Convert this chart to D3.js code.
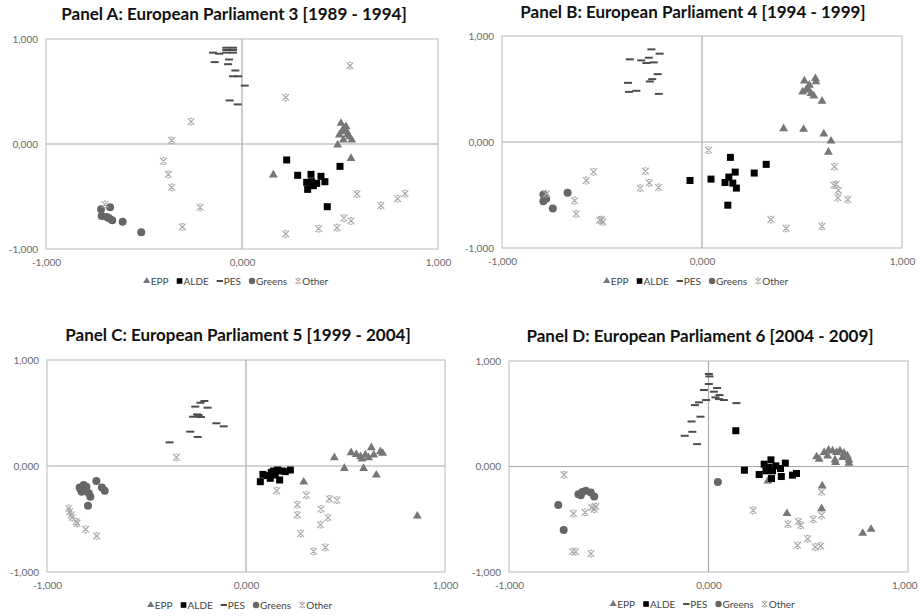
<!DOCTYPE html>
<html>
<head>
<meta charset="utf-8">
<script src="https://cdnjs.cloudflare.com/ajax/libs/d3/7.8.5/d3.min.js"></script>
<style>
  body { margin: 0; background: #fff; }
  svg { display: block; }
</style>
</head>
<body>
<div id="chart"></div>
<script>
// Scatter plots of party positions, four parliaments

// Series and tick labels
const seriesNames = ["EPP", "ALDE", "PES", "Greens", "Other"];
const tickValues = [-1, 0, 1];
const panelTitles = [
  "Panel A: European Parliament 3 [1989 - 1994]",
  "Panel B: European Parliament 4 [1994 - 1999]",
  "Panel C: European Parliament 5 [1999 - 2004]",
  "Panel D: European Parliament 6 [2004 - 2009]"
];

// Panel A (EP3)
const eppA = [[0.16,-0.295],[0.556,-0.137],[0.505,0.197],[0.52,0.149],[0.534,0.117],[0.497,0.086],[0.548,0.07],
  [0.517,0.038],[0.488,-0.01],[0.56,0.038],[0.531,0.165],[0.54,0.092],[0.51,0.12]];
const aldeA = [[0.228,-0.152],[0.284,-0.298],[0.352,-0.289],[0.403,-0.308],[0.33,-0.365],[0.355,-0.359],[0.381,-0.375],
  [0.423,-0.359],[0.335,-0.432],[0.364,-0.397],[0.5,-0.213],[0.435,-0.597]];
const pesA = [[-0.148,0.87],[-0.117,0.86],[-0.08,0.917],[-0.046,0.917],[-0.08,0.895],[-0.046,0.895],[-0.08,0.87],
  [-0.046,0.87],[-0.139,0.78],[-0.066,0.805],[-0.071,0.76],[-0.034,0.70],[-0.046,0.645],[-0.019,0.645],
  [0.014,0.556],[-0.063,0.415],[-0.022,0.377]];
const greensA = [[-0.719,-0.622],[-0.673,-0.603],[-0.716,-0.686],[-0.69,-0.695],[-0.662,-0.727],[-0.609,-0.74],
  [-0.514,-0.841],[-0.678,-0.708]];
const otherA = [[0.551,0.746],[0.223,0.444],[-0.26,0.213],[-0.359,0.035],[-0.401,-0.162],[-0.376,-0.289],[-0.359,-0.413],
  [-0.214,-0.603],[-0.304,-0.79],[-0.699,-0.575],[0.223,-0.857],[0.391,-0.806],[0.485,-0.797],[0.52,-0.705],
  [0.556,-0.733],[0.587,-0.476],[0.709,-0.587],[0.794,-0.521],[0.832,-0.473]];

// Panel B (EP4)
const eppB = [[0.512,0.577],[0.567,0.599],[0.57,0.568],[0.537,0.536],[0.503,0.473],[0.52,0.489],[0.545,0.457],
  [0.559,0.435],[0.528,0.505],[0.6,0.385],[0.408,0.126],[0.508,0.12],[0.609,0.076],[0.645,0.009],[0.632,-0.095]];
const aldeB = [[-0.06,-0.363],[0.045,-0.35],[0.142,-0.145],[0.166,-0.284],[0.134,-0.331],[0.115,-0.382],[0.154,-0.388],
  [0.172,-0.435],[0.261,-0.293],[0.321,-0.211],[0.129,-0.596]];
const pesB = [[-0.253,0.874],[-0.212,0.833],[-0.361,0.78],[-0.304,0.77],[-0.266,0.795],[-0.278,0.745],[-0.241,0.751],
  [-0.222,0.64],[-0.249,0.593],[-0.261,0.571],[-0.37,0.558],[-0.365,0.473],[-0.328,0.483],[-0.216,0.454]];
const greensB = [[-0.793,-0.495],[-0.793,-0.558],[-0.779,-0.536],[-0.672,-0.479],[-0.746,-0.628],[-0.784,-0.52]];
const otherB = [[0.032,-0.076],[-0.542,-0.281],[-0.579,-0.363],[-0.637,-0.552],[-0.629,-0.678],[-0.512,-0.738],
  [-0.495,-0.754],[-0.503,-0.732],[-0.283,-0.274],[-0.264,-0.385],[-0.309,-0.435],[-0.217,-0.429],[-0.779,-0.49],
  [0.662,-0.233],[0.659,-0.407],[0.671,-0.4],[0.682,-0.457],[0.679,-0.527],[0.729,-0.543],[0.344,-0.732],
  [0.421,-0.814],[0.6,-0.795]];

// Panel C (EP5)
const eppC = [[0.444,0.079],[0.528,0.126],[0.554,0.11],[0.575,0.088],[0.6,0.104],[0.63,0.173],[0.642,0.104],
  [0.675,0.135],[0.687,0.12],[0.583,0.066],[0.616,0.079],[0.494,-0.022],[0.591,-0.022],[0.655,-0.085],
  [0.29,-0.151],[0.861,-0.472]];
const aldeC = [[0.072,-0.148],[0.085,-0.079],[0.106,-0.091],[0.127,-0.06],[0.139,-0.047],[0.159,-0.038],[0.181,-0.047],
  [0.223,-0.038],[0.147,-0.085],[0.169,-0.132],[0.122,-0.116],[0.197,-0.053]];
const pesC = [[-0.209,0.613],[-0.229,0.597],[-0.255,0.56],[-0.193,0.55],[-0.246,0.487],[-0.266,0.465],[-0.226,0.462],
  [-0.238,0.481],[-0.149,0.403],[-0.112,0.374],[-0.28,0.324],[-0.243,0.274],[-0.384,0.223]];
const greensC = [[-0.836,-0.204],[-0.816,-0.179],[-0.802,-0.195],[-0.826,-0.242],[-0.79,-0.258],[-0.782,-0.289],
  [-0.807,-0.226],[-0.752,-0.142],[-0.724,-0.204],[-0.71,-0.233],[-0.794,-0.374],[-0.832,-0.217]];
const otherC = [[-0.35,0.082],[-0.891,-0.4],[-0.886,-0.431],[-0.878,-0.462],[-0.874,-0.487],[-0.853,-0.525],
  [-0.849,-0.541],[-0.806,-0.597],[-0.75,-0.66],[0.154,-0.233],[0.303,-0.274],[0.258,-0.365],[0.258,-0.462],
  [0.275,-0.638],[0.377,-0.406],[0.412,-0.487],[0.374,-0.553],[0.419,-0.311],[0.457,-0.321],[0.34,-0.805],[0.399,-0.767]];

// Panel D (EP6)
const eppD = [[0.542,0.092],[0.555,0.07],[0.58,0.133],[0.602,0.155],[0.622,0.148],[0.642,0.133],[0.659,0.148],
  [0.679,0.127],[0.696,0.101],[0.704,0.063],[0.634,0.063],[0.672,0.085],[0.704,0.032],[0.637,0.038],[0.597,0.101],
  [0.57,-0.184],[0.567,-0.399],[0.393,-0.446],[0.773,-0.633],[0.815,-0.595],[0.298,-0.136]];
const aldeD = [[0.137,0.339],[0.18,-0.035],[0.279,0.022],[0.313,0.063],[0.304,-0.009],[0.338,0.006],[0.361,-0.019],
  [0.385,0.032],[0.288,-0.041],[0.254,-0.076],[0.316,-0.114],[0.365,-0.095],[0.421,-0.082],[0.441,-0.066],[0.321,-0.041]];
const pesD = [[0.002,0.877],[0.005,0.854],[0.002,0.782],[-0.023,0.725],[0.043,0.744],[0.027,0.709],[0.055,0.677],
  [0.035,0.655],[0.052,0.639],[0.077,0.63],[-0.012,0.63],[-0.048,0.608],[-0.068,0.582],[0.14,0.601],[-0.04,0.472],
  [-0.085,0.427],[-0.081,0.329],[-0.119,0.291],[-0.057,0.212]];
const greensD = [[0.047,-0.146],[-0.753,-0.364],[-0.726,-0.601],[-0.652,-0.263],[-0.632,-0.241],[-0.615,-0.231],
  [-0.59,-0.247],[-0.573,-0.285],[-0.64,-0.272]];
const otherD = [[-0.724,-0.079],[-0.677,-0.446],[-0.619,-0.434],[-0.585,-0.389],[-0.565,-0.38],[-0.573,-0.405],
  [-0.682,-0.807],[-0.666,-0.807],[-0.589,-0.826],[0.224,-0.415],[0.398,-0.547],[0.45,-0.522],[0.462,-0.557],
  [0.525,-0.5],[0.567,-0.462],[0.567,-0.241],[0.446,-0.747],[0.497,-0.684],[0.535,-0.763],[0.562,-0.753]];

const panelData = [
  [eppA, aldeA, pesA, greensA, otherA],
  [eppB, aldeB, pesB, greensB, otherB],
  [eppC, aldeC, pesC, greensC, otherC],
  [eppD, aldeD, pesD, greensD, otherD]
];

// plot area boxes and title baselines (pixels)
const layout = [
  {left: 46, top: 39, right: 438, bottom: 249, titleX: 234, titleY: 20, legendY: 281},
  {left: 502, top: 36, right: 902, bottom: 248, titleX: 693, titleY: 18, legendY: 281},
  {left: 47, top: 360, right: 445, bottom: 572, titleX: 238, titleY: 341, legendY: 605},
  {left: 509, top: 361, right: 908, bottom: 572, titleX: 700, titleY: 342, legendY: 604}
];

const styles = {
  EPP: {fill: "#767676"},
  ALDE: {fill: "#000"},
  PES: {stroke: "#4d4d4d"},
  Greens: {fill: "#666"},
  Other: {stroke: "#a9a9a9"}
};

const svg = d3.select("#chart").append("svg")
  .attr("width", 919)
  .attr("height", 616);

const fmt = d => d3.format(".3f")(d).replace(".", ",").replace("\u2212", "-");

// draws one marker of a series at (0,0) inside g
function drawMarker(g, name, s) {
  if (name === "EPP") {
    g.append("path").attr("d", d3.symbol(d3.symbolTriangle, 34 * s * s)()).attr("fill", styles.EPP.fill);
  } else if (name === "ALDE") {
    g.append("rect").attr("x", -3.5 * s).attr("y", -3.5 * s).attr("width", 7 * s).attr("height", 7 * s)
      .attr("fill", styles.ALDE.fill);
  } else if (name === "PES") {
    g.append("line").attr("x1", -4 * s).attr("x2", 4 * s).attr("y1", 0).attr("y2", 0)
      .attr("stroke", styles.PES.stroke).attr("stroke-width", 2);
  } else if (name === "Greens") {
    g.append("circle").attr("r", 4 * s).attr("fill", styles.Greens.fill);
  } else {
    const r = 3.3 * s;
    g.append("path")
      .attr("d", `M${-r},${-r}L${r},${r}M${r},${-r}L${-r},${r}M${-r * 0.35},${-r}H${r * 0.35}M${-r * 0.35},${r}H${r * 0.35}`)
      .attr("stroke", styles.Other.stroke).attr("stroke-width", 1.2).attr("fill", "none");
  }
}

layout.forEach((box, i) => {
  const x = d3.scaleLinear().domain([-1, 1]).range([box.left, box.right]);
  const y = d3.scaleLinear().domain([-1, 1]).range([box.bottom, box.top]);
  const g = svg.append("g");

  // title
  g.append("text")
    .attr("x", box.titleX)
    .attr("y", box.titleY)
    .attr("text-anchor", "middle")
    .attr("font-family", "Lato, sans-serif")
    .attr("font-weight", "bold")
    .attr("font-size", 17)
    .attr("fill", "#111")
    .text(panelTitles[i]);

  // frame and zero lines
  g.append("rect")
    .attr("x", box.left).attr("y", box.top)
    .attr("width", box.right - box.left).attr("height", box.bottom - box.top)
    .attr("fill", "none").attr("stroke", "#c4c4c4").attr("stroke-width", 1.2);
  g.append("line")
    .attr("x1", x(0)).attr("x2", x(0)).attr("y1", box.top).attr("y2", box.bottom)
    .attr("stroke", "#aaa").attr("stroke-width", 1.2);
  g.append("line")
    .attr("x1", box.left).attr("x2", box.right).attr("y1", y(0)).attr("y2", y(0))
    .attr("stroke", "#aaa").attr("stroke-width", 1.2);

  // axes, labels only
  const yAxis = g.append("g")
    .attr("transform", `translate(${box.left - 8},0)`)
    .call(d3.axisLeft(y).tickValues(tickValues).tickFormat(fmt).tickSize(0));
  const xAxis = g.append("g")
    .attr("transform", `translate(0,${box.bottom + 8})`)
    .call(d3.axisBottom(x).tickValues(tickValues).tickFormat(fmt).tickSize(0));
  [yAxis, xAxis].forEach(a => {
    a.select(".domain").remove();
    a.selectAll("text").attr("font-family", "Lato, sans-serif").attr("font-size", 10).attr("fill", "#6a6a6a");
  });
  yAxis.selectAll("text").attr("x", 0);
  xAxis.selectAll("text").attr("y", 2);
  // keep the last x label inside the page
  xAxis.selectAll(".tick").each(function(d) {
    const t = d3.select(this).select("text");
    const w = t.node().getBBox().width;
    if (x(d) + w / 2 > 917) t.attr("text-anchor", "end").attr("x", 917 - x(d));
  });

  // points, one layer per series
  seriesNames.forEach((name, k) => {
    g.append("g").selectAll("g")
      .data(panelData[i][k])
      .join("g")
      .attr("transform", d => `translate(${x(d[0])},${y(d[1])})`)
      .each(function() { drawMarker(d3.select(this), name, 1); });
  });

  // legend
  const leg = g.append("g");
  let cx = 0;
  seriesNames.forEach(name => {
    const item = leg.append("g").attr("transform", `translate(${cx},0)`);
    drawMarker(item.append("g").attr("transform", "translate(3,0)"), name, 0.8);
    const t = item.append("text")
      .attr("x", 7).attr("y", 3.5)
      .attr("font-family", "Lato, sans-serif")
      .attr("font-size", 10)
      .attr("fill", "#444")
      .text(name);
    cx += 7 + t.node().getComputedTextLength() + 8;
  });
  const legW = cx - 8;
  leg.attr("transform", `translate(${(box.left + box.right) / 2 - 6 - legW / 2},${box.legendY})`);
});
</script>
</body>
</html>
